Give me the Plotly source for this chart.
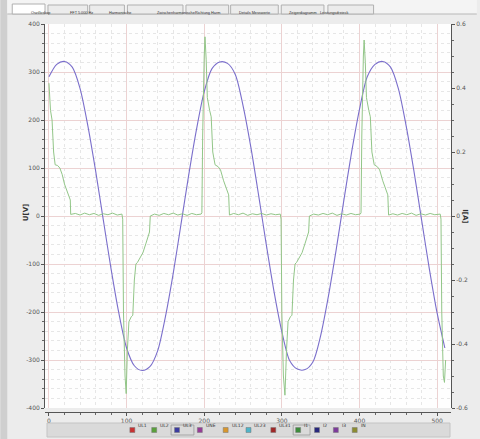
import plotly.graph_objects as go

# ---------------- data ----------------
# Voltage UL3 (left axis, V)
u_t = [0, 10, 20, 30, 40, 50, 60, 70, 80, 90, 100, 110, 120, 130, 140, 150, 160, 170, 180, 190,
       200, 210, 220, 230, 240, 250, 260, 270, 280, 290, 300, 310, 320, 330, 340, 350, 360, 370,
       380, 390, 400, 410, 420, 430, 440, 450, 460, 470, 480, 490, 500, 510]
u_v = [290, 316, 322, 310, 266, 189, 95, -8, -110, -202, -275, -312, -322, -314, -281, -210, -120,
       -18, 85, 180, 259, 307, 321, 318, 295, 230, 144, 44, -60, -158, -241, -301, -319, -320,
       -304, -249, -167, -70, 34, 134, 222, 290, 316, 322, 310, 266, 189, 95, -8, -110, -202, -275]

# Current I1 (right axis, A)
i_t = [0, 2, 4, 6, 8, 11, 14, 17, 20, 23, 26, 27.5, 28, 34, 40, 46, 52, 58, 64, 70, 76, 82, 88, 94,
       95, 96, 98, 99.5, 101, 103, 106, 108, 110, 112, 114, 117, 121, 125, 128, 129.5, 130.5,
       136, 142, 148, 154, 160, 166, 172, 178, 184, 190, 196,
       197, 198, 200, 201, 202.5, 204, 207, 209, 211, 214, 218, 221, 225, 229, 231.5, 232.5,
       238, 244, 250, 256, 262, 268, 274, 280, 286, 292, 298,
       299, 300, 302, 304, 306, 308, 311, 313, 315, 317, 319, 322, 326, 330, 333, 334.5, 335.5,
       341, 347, 353, 359, 365, 371, 377, 383, 389, 395, 401,
       402, 403, 405, 406, 407.5, 409, 412, 414, 416, 419, 423, 426, 430, 434, 436.5, 437.5,
       443, 449, 455, 461, 467, 473, 479, 485, 491, 497, 504,
       505, 506, 508, 509.5, 511]
i_v = [0.415, 0.33, 0.30, 0.20, 0.16, 0.158, 0.15, 0.13, 0.10, 0.08, 0.06, 0.05, 0.005, 0.008, 0.003,
       0.009, 0.004, 0.008, 0.002, 0.007, 0.004, 0.009, 0.003, 0.006,
       -0.01, -0.30, -0.50, -0.555, -0.42, -0.33, -0.315, -0.31, -0.20, -0.15, -0.145, -0.13,
       -0.115, -0.085, -0.06, -0.05, 0.0,
       0.006, 0.002, 0.008, 0.004, 0.009, 0.003, 0.007, 0.002, 0.008, 0.004, 0.006,
       0.01, 0.25, 0.50, 0.56, 0.49, 0.37, 0.33, 0.31, 0.20, 0.16, 0.154, 0.144, 0.11, 0.08, 0.066,
       0.003,
       0.008, 0.004, 0.009, 0.002, 0.007, 0.004, 0.008, 0.003, 0.007, 0.004, 0.006,
       -0.01, -0.30, -0.50, -0.56, -0.42, -0.33, -0.315, -0.31, -0.20, -0.15, -0.145, -0.13,
       -0.115, -0.085, -0.06, -0.05, 0.0,
       0.006, 0.003, 0.008, 0.004, 0.009, 0.002, 0.007, 0.003, 0.008, 0.004, 0.006,
       0.01, 0.25, 0.50, 0.55, 0.48, 0.37, 0.33, 0.31, 0.20, 0.16, 0.154, 0.144, 0.11, 0.08, 0.066,
       0.003,
       0.007, 0.003, 0.008, 0.004, 0.009, 0.002, 0.007, 0.003, 0.008, 0.004, 0.006,
       -0.01, -0.30, -0.50, -0.52, -0.45]

x_ticks = [0, 100, 200, 300, 400, 500]
y_ticks = [400, 300, 200, 100, 0, -100, -200, -300, -400]
y2_ticks = [0.6, 0.4, 0.2, 0, -0.2, -0.4, -0.6]

tabs = ["Oszilloskop", "FFT 5.000 Hz", "Harmonische", "Zwischenharmonische", "Richtung Harm",
        "Details Messwerte", "Zeigerdiagramm", "Leistungsdreieck"]
legend_names = ["UL1", "UL2", "UL3", "UNE", "UL12", "UL23", "UL31", "I1", "I2", "I3", "IN"]
legend_colors = ["#c83232", "#5aa03c", "#3c3ca0", "#963c96", "#d7962d", "#50b4c8", "#a02828",
                 "#3c8c3c", "#28287d", "#7d3c9b", "#8c8c32"]

# ---------------- figure ----------------
W, H = 480, 439
L, R, T, B = 45, 26, 24, 27


def xp(px):
    return (px - L) / (W - L - R)


def yp(py):
    return (H - B - py) / (H - T - B)


fig = go.Figure()
fig.add_trace(go.Scatter(x=u_t, y=u_v, mode="lines",
                         line=dict(color="#7a6ecb", width=1.1, shape="spline", smoothing=0.8),
                         name="UL3", yaxis="y", hoverinfo="skip"))
fig.add_trace(go.Scatter(x=i_t, y=i_v, mode="lines", line=dict(color="#92c688", width=1.0),
                         name="I1", yaxis="y2", hoverinfo="skip"))

tickfont = dict(family="DejaVu Sans", size=6, color="#555555")
fig.update_layout(
    width=W, height=H,
    margin=dict(l=L, r=R, t=T, b=B),
    paper_bgcolor="#ececec",
    plot_bgcolor="#fefefe",
    showlegend=False,
    xaxis=dict(range=[-5.1, 517.9], tickvals=x_ticks, ticktext=[str(v) for v in x_ticks],
               ticks="outside", ticklen=3, tickcolor="#555", tickfont=tickfont,
               showline=True, linecolor="#555", linewidth=1,
               showgrid=True, gridcolor="#ecd2d2", gridwidth=1,
               minor=dict(dtick=20, tick0=0, ticks="outside", ticklen=2, tickcolor="#666",
                          showgrid=True, gridcolor="#e6e6e6", griddash="dot"),
               anchor="free", position=0, zeroline=False),
    yaxis=dict(range=[-400, 400], domain=[4 / (H - T - B), 1], tickvals=y_ticks,
               ticktext=[str(v) for v in y_ticks], ticks="outside", ticklen=3, tickcolor="#555",
               tickfont=tickfont, showline=True, linecolor="#555", linewidth=1,
               showgrid=True, gridcolor="#ecd2d2",
               minor=dict(dtick=20, tick0=0, ticks="outside", ticklen=2, tickcolor="#666",
                          showgrid=True, gridcolor="#e6e6e6", griddash="dot"),
               zeroline=False),
    yaxis2=dict(range=[-0.6, 0.6], overlaying="y", side="right", tickvals=y2_ticks,
                ticktext=["0.6", "0.4", "0.2", "0", "-0.2", "-0.4", "-0.6"],
                ticks="outside", ticklen=3, tickcolor="#555", tickfont=tickfont,
                showline=True, linecolor="#555", linewidth=1, showgrid=False,
                minor=dict(dtick=0.05, tick0=0, ticks="outside", ticklen=2, tickcolor="#666"),
                zeroline=False),
)

shapes = []
ann = []
# left dark strip
shapes.append(dict(type="rect", xref="paper", yref="paper", x0=xp(0), x1=xp(7), y0=yp(439), y1=yp(0),
                   fillcolor="#cfcfcf", line_width=0, layer="below"))
# tab bar
shapes.append(dict(type="rect", xref="paper", yref="paper", x0=xp(7), x1=xp(480), y0=yp(14), y1=yp(0),
                   fillcolor="#f4f4f4", line_width=0, layer="below"))
shapes.append(dict(type="line", xref="paper", yref="paper", x0=xp(7), x1=xp(480), y0=yp(14), y1=yp(14),
                   line=dict(color="#b8b8b8", width=1)))
tab_x = [(12, 45), (48, 88), (90, 125), (128, 184), (187, 230), (232, 280), (283, 326), (330, 376)]
for i, (name, (a, b)) in enumerate(zip(tabs, tab_x)):
    shapes.append(dict(type="rect", xref="paper", yref="paper", x0=xp(a), x1=xp(b),
                       y0=yp(14), y1=yp(4 if i == 0 else 5),
                       fillcolor="#ffffff" if i == 0 else "#ececec",
                       line=dict(color="#b0b0b0", width=1)))
    ann.append(dict(text=name, x=xp((a + b) / 2), y=yp(9.5), xref="paper", yref="paper",
                    showarrow=False, font=dict(family="Liberation Sans", size=3.8, color="#333")))
# legend bar
shapes.append(dict(type="rect", xref="paper", yref="paper", x0=xp(47), x1=xp(453), y0=yp(437), y1=yp(423),
                   fillcolor="#dadada", line=dict(color="#c4c4c4", width=1)))
leg_x = [133, 155, 178, 201, 227, 250, 275, 300, 319, 338, 357]
for name, col, lx in zip(legend_names, legend_colors, leg_x):
    shapes.append(dict(type="rect", xref="paper", yref="paper", x0=xp(lx - 2.5), x1=xp(lx + 2.5),
                       y0=yp(432.5), y1=yp(427.5), fillcolor=col, line=dict(color="#777", width=0.5)))
    ann.append(dict(text=name, x=xp(lx + 4), y=yp(430), xref="paper", yref="paper", xanchor="left",
                    showarrow=False, font=dict(family="DejaVu Sans", size=4.5, color="#333")))
for a, b in [(172, 195), (295, 312)]:
    shapes.append(dict(type="rect", xref="paper", yref="paper", x0=xp(a), x1=xp(b),
                       y0=yp(435), y1=yp(425), fillcolor="rgba(0,0,0,0)",
                       line=dict(color="#999", width=0.8)))
# axis titles
ann.append(dict(text="<b>U[V]</b>", x=xp(20), y=yp(212), xref="paper", yref="paper", textangle=-90,
                showarrow=False, font=dict(family="DejaVu Sans", size=7, color="#333")))
ann.append(dict(text="<b>I[A]</b>", x=xp(474), y=yp(216), xref="paper", yref="paper", textangle=90,
                showarrow=False, font=dict(family="DejaVu Sans", size=7, color="#333")))

fig.update_layout(shapes=shapes, annotations=ann)
fig.write_html("out.html", config={"displayModeBar": False},
               post_script="document.body.style.margin='0';document.body.style.background='#ececec';")
